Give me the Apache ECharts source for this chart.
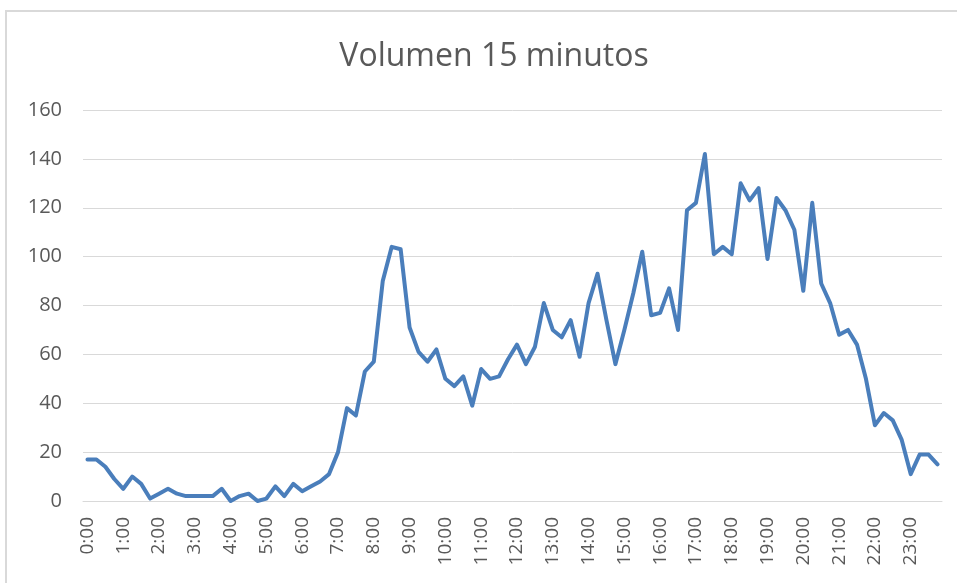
<!DOCTYPE html>
<html>
<head>
<meta charset="utf-8">
<title>Volumen 15 minutos</title>
<script src="https://cdn.jsdelivr.net/npm/echarts@6/dist/echarts.min.js"></script>
<style>
    html, body { margin: 0; padding: 0; background: #fff; }
    #volumen { width: 957px; height: 583px; }
</style>
</head>
<body>
<div id="volumen"></div>
<script>
// horas del eje (cada hora tiene 4 tramos de 15 min)
var horas = ['0', '1', '2', '3', '4', '5', '6', '7', '8', '9', '10', '11',
    '12', '13', '14', '15', '16', '17', '18', '19', '20', '21', '22', '23'];
var minutos = ['00', '15', '30', '45'];

// volumen por tramo de 15 minutos, en bloques de 6 horas
var madrugada = [17, 17, 14, 9, 5, 10, 7, 1, 3, 5, 3, 2, 2, 2, 2, 5, 0, 2, 3, 0, 1, 6, 2, 7];
var manana = [4, 6, 8, 11, 20, 38, 35, 53, 57, 90, 104, 103, 71, 61, 57, 62, 50, 47, 51, 39, 54, 50, 51, 58];
var tarde = [64, 56, 63, 81, 70, 67, 74, 59, 81, 93, 74, 56, 70, 85, 102, 76, 77, 87, 70, 119, 122, 142, 101, 104];
var noche = [101, 130, 123, 128, 99, 124, 119, 111, 86, 122, 89, 81, 68, 70, 64, 50, 31, 36, 33, 25, 11, 19, 19, 15];

var ejeY = [0, 20, 40, 60, 80, 100, 120, 140, 160];

var tramos = [];
horas.forEach(function (h) {
    minutos.forEach(function (m) {
        tramos.push(h + ':' + m);
    });
});
var volumen = madrugada.concat(manana, tarde, noche);

var fuente = "'Open Sans', 'Noto Sans', sans-serif";
var gris = '#d9d9d9';

var myChart = echarts.init(document.getElementById('volumen'));
var option = {
    backgroundColor: '#fff',
    animation: false,
    title: {
        text: 'Volumen 15 minutos',
        left: 489,
        top: 36,
        textAlign: 'center',
        textStyle: {
            fontFamily: fuente,
            fontSize: 32,
            fontWeight: 'normal',
            color: '#595959'
        }
    },
    // marco del gráfico
    graphic: [{
        type: 'rect',
        shape: { x: 6, y: 11, width: 1000, height: 1000 },
        style: { fill: 'none', stroke: gris, lineWidth: 2 },
        silent: true
    }],
    grid: {
        left: 83,
        right: 15,
        top: 110,
        bottom: 82
    },
    xAxis: {
        type: 'category',
        data: tramos,
        boundaryGap: true,
        axisLine: { show: true, lineStyle: { color: gris, width: 1 } },
        axisTick: { show: false },
        axisLabel: {
            interval: 3,
            rotate: 90,
            margin: 16,
            fontFamily: fuente,
            fontSize: 19,
            color: '#595959'
        },
        splitLine: { show: false }
    },
    yAxis: {
        type: 'value',
        min: ejeY[0],
        max: ejeY[ejeY.length - 1],
        interval: ejeY[1] - ejeY[0],
        axisLine: { show: false },
        axisTick: { show: false },
        axisLabel: {
            margin: 21,
            fontFamily: fuente,
            fontSize: 20,
            color: '#595959'
        },
        splitLine: { lineStyle: { color: gris, width: 1 } }
    },
    series: [{
        name: 'Volumen',
        type: 'line',
        data: volumen,
        symbol: 'none',
        lineStyle: {
            color: '#4a7ebb',
            width: 4,
            join: 'round',
            cap: 'round'
        }
    }]
};
myChart.setOption(option);
</script>
</body>
</html>
